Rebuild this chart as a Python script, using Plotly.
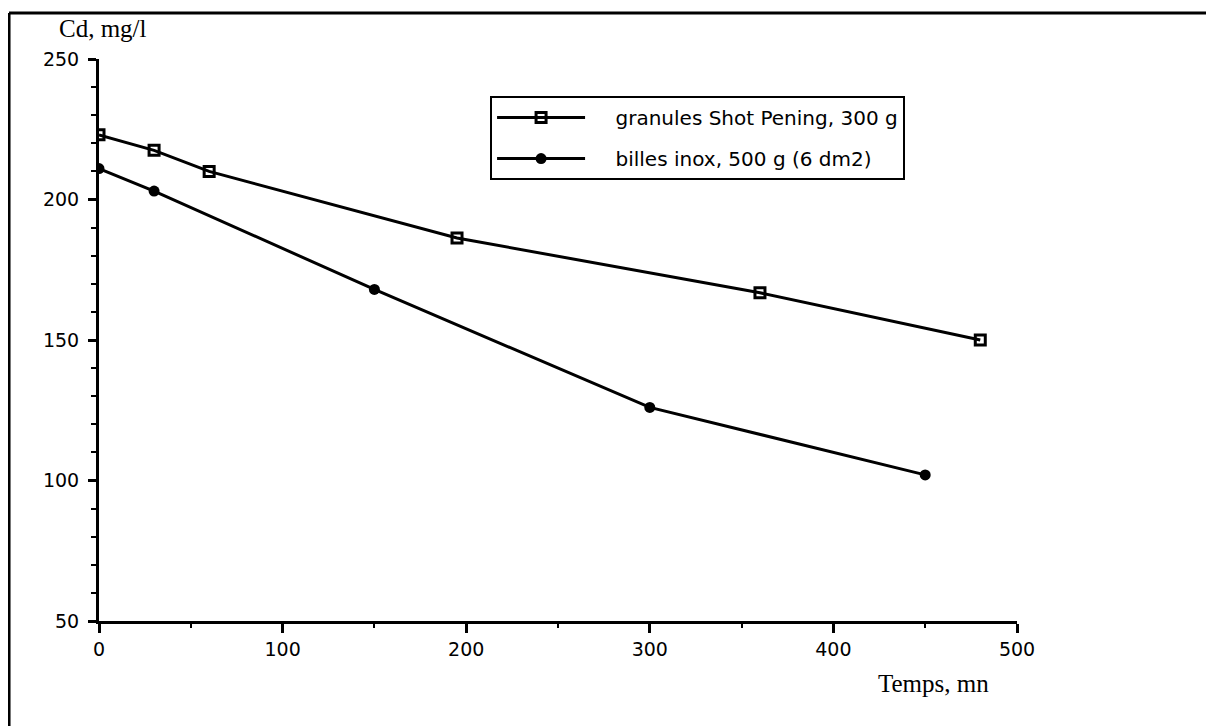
import plotly.graph_objects as go

# Data
temps_granules = [0, 30, 60, 195, 360, 480]
cd_granules = [223, 217.5, 210, 186.3, 166.8, 150]
temps_billes = [0, 30, 150, 300, 450]
cd_billes = [211, 203, 168, 126, 102]
name_granules = "granules Shot Pening, 300 g"
name_billes = "billes inox, 500 g (6 dm2)"
x_ticks = [0, 100, 200, 300, 400, 500]
y_ticks = [50, 100, 150, 200, 250]

pad = "    "
fig = go.Figure()
fig.add_trace(go.Scatter(
    x=temps_granules, y=cd_granules, name=pad + name_granules, mode="lines+markers",
    line=dict(color="black", width=3),
    marker=dict(symbol="square-open", size=10, color="black", line=dict(width=3, color="black")),
    legendgroup="g1",
))
fig.add_trace(go.Scatter(
    x=temps_billes, y=cd_billes, name=pad + name_billes, mode="lines+markers",
    line=dict(color="black", width=3),
    marker=dict(symbol="circle", size=11, color="black"),
    legendgroup="g2",
))

axis_font = dict(family="DejaVu Sans", size=19, color="black")
fig.update_xaxes(
    range=[0, 500], tickvals=x_ticks, showgrid=False, zeroline=False,
    showline=True, linecolor="black", linewidth=3,
    ticks="outside", ticklen=9, tickwidth=3, tickcolor="black",
    minor=dict(dtick=50, ticks="outside", ticklen=4, tickwidth=2, tickcolor="black"),
    tickfont=axis_font,
)
fig.update_yaxes(
    range=[50, 250], tickvals=y_ticks, showgrid=False, zeroline=False,
    showline=True, linecolor="black", linewidth=3,
    ticks="outside", ticklen=8, tickwidth=3, tickcolor="black",
    minor=dict(dtick=10, ticks="outside", ticklen=5, tickwidth=2, tickcolor="black"),
    tickfont=axis_font, ticklabelstandoff=5,
)

fig.update_layout(
    width=1206, height=718,
    margin=dict(l=91, r=197, t=51, b=105),
    paper_bgcolor="white", plot_bgcolor="white",
    showlegend=True,
    legend=dict(
        x=0.426, y=0.934, xanchor="left", yanchor="top",
        bordercolor="black", borderwidth=2, bgcolor="white",
        font=dict(family="DejaVu Sans", size=20, color="black"),
        itemwidth=88, tracegroupgap=12,
    ),
    annotations=[
        dict(text="Cd, mg/l", xref="paper", yref="paper", x=-0.046, y=1.054,
             xanchor="left", yanchor="middle", showarrow=False,
             font=dict(family="Liberation Serif", size=25, color="black")),
        dict(text="Temps, mn", xref="paper", yref="paper", x=0.846, y=-0.112,
             xanchor="left", yanchor="middle", showarrow=False,
             font=dict(family="Liberation Serif", size=25, color="black")),
    ],
    shapes=[
        dict(type="line", xref="paper", yref="paper", x0=-0.098, y0=1.082, x1=1.3, y1=1.082,
             line=dict(color="black", width=3), layer="below"),
        dict(type="line", xref="paper", yref="paper", x0=-0.098, y0=1.082, x1=-0.098, y1=-0.3,
             line=dict(color="black", width=3), layer="below"),
    ],
)

fig.write_html("out.html")
